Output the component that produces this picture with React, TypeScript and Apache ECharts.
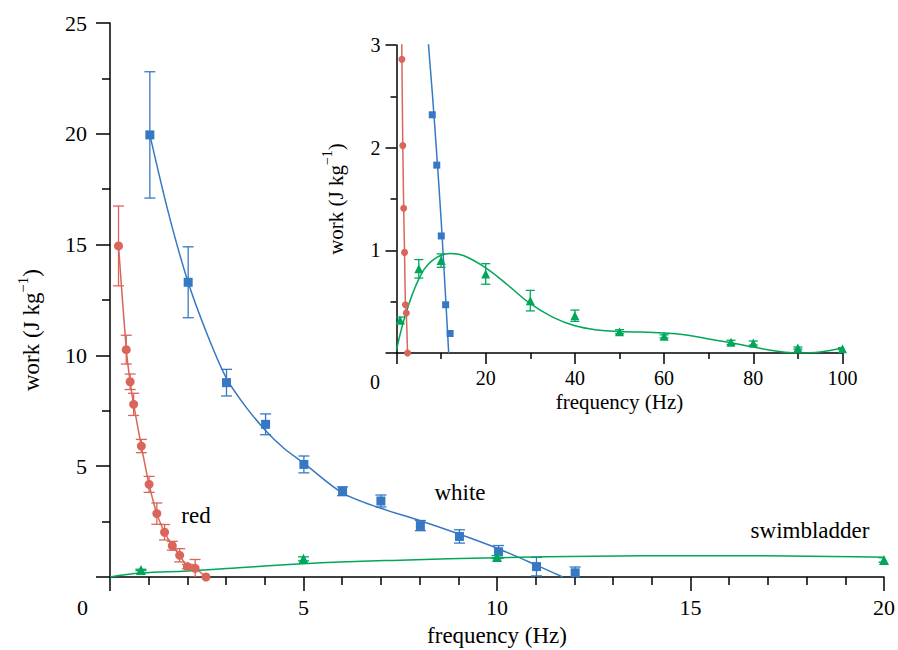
import React, { useEffect, useRef } from 'react';
import * as echarts from 'echarts';

// ---- data ----
const redFreq = [0.22, 0.42, 0.52, 0.61, 0.81, 1.01, 1.21, 1.41, 1.61, 1.8, 2.0, 2.2, 2.48];
const redWork = [14.94, 10.26, 8.81, 7.79, 5.91, 4.18, 2.86, 2.02, 1.41, 0.98, 0.47, 0.39, 0.0];
const redErr = [1.8, 0.65, 0.35, 0.5, 0.3, 0.36, 0.48, 0.35, 0.2, 0.3, 0.1, 0.4, 0];

const whiteFreq = [1.03, 2.02, 3.01, 4.02, 5.01, 6.01, 7.0, 8.02, 9.03, 10.04, 11.02, 12.02];
const whiteWork = [19.95, 13.3, 8.77, 6.89, 5.08, 3.87, 3.43, 2.32, 1.83, 1.14, 0.47, 0.19];
const whiteErr = [2.85, 1.6, 0.6, 0.47, 0.38, 0.2, 0.27, 0.23, 0.3, 0.28, 0.42, 0.26];

const whiteFitFreq = [1.03, 1.5, 2, 2.5, 3, 3.5, 4, 4.5, 5, 6, 7, 8, 9, 10, 11, 11.7];
const whiteFitWork = [19.95, 16.5, 13.4, 11.0, 9.0, 7.7, 6.65, 5.8, 5.15, 3.8, 3.1, 2.55, 1.95, 1.3, 0.55, 0];

const swimFreq = [0.8, 5, 10, 20, 30, 40, 50, 60, 75, 80, 90, 100];
const swimWork = [0.32, 0.82, 0.9, 0.77, 0.51, 0.363, 0.207, 0.162, 0.104, 0.097, 0.048, 0.042];
const swimErr = [0.03, 0.09, 0.065, 0.1, 0.1, 0.055, 0.02, 0.015, 0.02, 0.02, 0.01, 0.01];

const swimMainFitFreq = [0, 0.8, 2, 3, 5, 7.5, 10, 12.5, 15, 17.5, 20];
const swimMainFitWork = [0, 0.18, 0.27, 0.38, 0.6, 0.76, 0.87, 0.94, 0.96, 0.95, 0.89];

const swimInsetFitFreq = [0, 2, 5, 8, 12, 15, 20, 25, 30, 35, 40, 45, 50, 60, 65, 70, 75, 80, 85, 90, 95, 100];
const swimInsetFitWork = [0.03, 0.37, 0.72, 0.9, 0.97, 0.95, 0.83, 0.66, 0.48, 0.35, 0.265, 0.225, 0.21, 0.195, 0.175, 0.136, 0.1, 0.058, 0.02, 0.0, 0.01, 0.048];

const mainXTicks = { min: 0, max: 20, interval: 5 };
const mainYTicks = { min: 0, max: 25, interval: 5 };
const insetXTicks = { min: 0, max: 100, interval: 20 };
const insetYTicks = { min: 0, max: 3, interval: 1 };

const RED = '#d9655b';
const BLUE = '#3678c3';
const GREEN = '#00a75a';
const FONT = '"Liberation Serif", "Times New Roman", serif';

const zip = (xs: number[], ys: number[]) => xs.map((x, i) => [x, ys[i]]);
const zip3 = (xs: number[], ys: number[], es: number[]) => xs.map((x, i) => [x, ys[i], es[i]]);

const errRender = (cap: number, color: string) => (params: any, api: any) => {
  const x = api.value(0);
  const y = api.value(1);
  const e = api.value(2);
  if (!e) return null;
  const top = api.coord([x, y + e]);
  const bot = api.coord([x, y - e]);
  const style = { stroke: color, lineWidth: 1.3 };
  return {
    type: 'group',
    children: [
      { type: 'line', shape: { x1: top[0], y1: top[1], x2: bot[0], y2: bot[1] }, style },
      { type: 'line', shape: { x1: top[0] - cap, y1: top[1], x2: top[0] + cap, y2: top[1] }, style },
      { type: 'line', shape: { x1: bot[0] - cap, y1: bot[1], x2: bot[0] + cap, y2: bot[1] }, style },
    ],
  };
};

const axisBase = (tickLen: number, minorLen: number, split: number) => ({
  type: 'value' as const,
  axisLine: { show: true, onZero: false, lineStyle: { color: '#000', width: 1.5 } },
  axisTick: { show: true, inside: false, length: tickLen, lineStyle: { color: '#000', width: 1.5 } },
  minorTick: { show: true, splitNumber: split, length: minorLen, lineStyle: { color: '#000', width: 1.5 } },
  splitLine: { show: false },
  minorSplitLine: { show: false },
  nameMoveOverlap: false,
});

export default function App() {
  const ref = useRef<HTMLDivElement>(null);
  useEffect(() => {
    if (!ref.current) return;
    const chart = echarts.init(ref.current, undefined, { renderer: 'svg' });
    const option: any = {
      animation: false,
      backgroundColor: '#ffffff',
      textStyle: { fontFamily: FONT },
      grid: [
        { left: 110, right: 14, top: 23, bottom: 73, outerBoundsMode: 'none' },
        { left: 396.5, right: 55.5, top: 45, bottom: 297, outerBoundsMode: 'none' },
      ],
      xAxis: [
        {
          ...axisBase(14, 8, 5),
          gridIndex: 0,
          ...mainXTicks,
          axisLabel: {
            fontSize: 22, fontFamily: FONT, color: '#000', margin: 19,
            formatter: (v: number) => (v === 0 ? '{z|0}' : String(v)),
            rich: { z: { fontSize: 22, fontFamily: FONT, color: '#000', padding: [0, 55, 0, 0] } },
          },
          name: 'frequency (Hz)', nameLocation: 'middle', nameGap: 47,
          nameTextStyle: { fontSize: 23, fontFamily: FONT, color: '#000' },
        },
        {
          ...axisBase(11, 6, 2),
          gridIndex: 1,
          ...insetXTicks,
          axisLabel: {
            fontSize: 20, fontFamily: FONT, color: '#000', margin: 15,
            formatter: (v: number) => (v === 0 ? '{z|0}' : String(v)),
            rich: { z: { fontSize: 20, fontFamily: FONT, color: '#000', padding: [4, 43, 0, 0] } },
          },
          name: 'frequency (Hz)', nameLocation: 'middle', nameGap: 38,
          nameTextStyle: { fontSize: 21, fontFamily: FONT, color: '#000' },
        },
      ],
      yAxis: [
        {
          ...axisBase(14, 8, 2),
          gridIndex: 0,
          ...mainYTicks,
          axisLabel: {
            fontSize: 22, fontFamily: FONT, color: '#000', margin: 23,
            formatter: (v: number) => (v === 0 ? '' : String(v)),
          },
          name: '{a|work (J kg}{s|−1}{a|)}', nameLocation: 'middle', nameGap: 62,
          nameTextStyle: {
            fontSize: 23, fontFamily: FONT, color: '#000', padding: [0, 60, 0, 0],
            rich: {
              a: { fontSize: 23, fontFamily: FONT, color: '#000', lineHeight: 33 },
              s: { fontSize: 15, fontFamily: FONT, color: '#000', lineHeight: 6, verticalAlign: 'top' },
            },
          },
        },
        {
          ...axisBase(11, 6, 2),
          gridIndex: 1,
          ...insetYTicks,
          axisLabel: {
            fontSize: 20, fontFamily: FONT, color: '#000', margin: 16,
            formatter: (v: number) => (v === 0 ? '' : String(v)),
          },
          name: '{a|work (J kg}{s|−1}{a|)}', nameLocation: 'middle', nameGap: 45,
          nameTextStyle: {
            fontSize: 21, fontFamily: FONT, color: '#000',
            rich: {
              a: { fontSize: 21, fontFamily: FONT, color: '#000', lineHeight: 31 },
              s: { fontSize: 14, fontFamily: FONT, color: '#000', lineHeight: 6, verticalAlign: 'top' },
            },
          },
        },
      ],
      series: [
        // ---- main panel ----
        { type: 'line', xAxisIndex: 0, yAxisIndex: 0, data: zip(redFreq, redWork), smooth: 0.2, showSymbol: false, lineStyle: { color: RED, width: 1.5 }, z: 2 },
        { type: 'custom', xAxisIndex: 0, yAxisIndex: 0, data: zip3(redFreq, redWork, redErr), renderItem: errRender(5.5, RED), clip: true, encode: { x: 0, y: 1 }, z: 2 },
        { type: 'scatter', xAxisIndex: 0, yAxisIndex: 0, data: zip(redFreq, redWork), symbol: 'circle', symbolSize: 9, itemStyle: { color: RED, opacity: 1 }, z: 3 },

        { type: 'line', xAxisIndex: 0, yAxisIndex: 0, data: zip(whiteFitFreq, whiteFitWork), smooth: 0.3, showSymbol: false, lineStyle: { color: BLUE, width: 1.5 }, z: 2 },
        { type: 'custom', xAxisIndex: 0, yAxisIndex: 0, data: zip3(whiteFreq, whiteWork, whiteErr), renderItem: errRender(5.5, BLUE), clip: true, encode: { x: 0, y: 1 }, z: 2 },
        { type: 'scatter', xAxisIndex: 0, yAxisIndex: 0, data: zip(whiteFreq, whiteWork), symbol: 'rect', symbolSize: 9, itemStyle: { color: BLUE, opacity: 1 }, z: 3 },

        { type: 'line', xAxisIndex: 0, yAxisIndex: 0, data: zip(swimMainFitFreq, swimMainFitWork), smooth: 0.4, showSymbol: false, lineStyle: { color: GREEN, width: 1.5 }, z: 2 },
        { type: 'custom', xAxisIndex: 0, yAxisIndex: 0, data: zip3(swimFreq, swimWork, swimErr), renderItem: errRender(5.5, GREEN), clip: true, encode: { x: 0, y: 1 }, z: 2 },
        { type: 'scatter', xAxisIndex: 0, yAxisIndex: 0, data: zip(swimFreq, swimWork), symbol: 'triangle', symbolSize: 10, itemStyle: { color: GREEN, opacity: 1 }, z: 3 },

        // ---- inset panel ----
        { type: 'line', xAxisIndex: 1, yAxisIndex: 1, data: zip(redFreq, redWork), smooth: 0.2, showSymbol: false, lineStyle: { color: RED, width: 1.5 }, z: 2 },
        { type: 'scatter', xAxisIndex: 1, yAxisIndex: 1, data: zip(redFreq, redWork), symbol: 'circle', symbolSize: 7, itemStyle: { color: RED, opacity: 1 }, z: 3 },

        { type: 'line', xAxisIndex: 1, yAxisIndex: 1, data: zip(whiteFitFreq, whiteFitWork), smooth: 0.3, showSymbol: false, lineStyle: { color: BLUE, width: 1.5 }, z: 2 },
        { type: 'scatter', xAxisIndex: 1, yAxisIndex: 1, data: zip(whiteFreq, whiteWork), symbol: 'rect', symbolSize: 7, itemStyle: { color: BLUE, opacity: 1 }, z: 3 },

        { type: 'line', xAxisIndex: 1, yAxisIndex: 1, data: zip(swimInsetFitFreq, swimInsetFitWork), smooth: 0.4, showSymbol: false, lineStyle: { color: GREEN, width: 1.5 }, z: 2 },
        { type: 'custom', xAxisIndex: 1, yAxisIndex: 1, data: zip3(swimFreq, swimWork, swimErr), renderItem: errRender(4.5, GREEN), clip: true, encode: { x: 0, y: 1 }, z: 2 },
        { type: 'scatter', xAxisIndex: 1, yAxisIndex: 1, data: zip(swimFreq, swimWork), symbol: 'triangle', symbolSize: 9, itemStyle: { color: GREEN, opacity: 1 }, z: 3 },
      ],
      graphic: [
        { type: 'text', x: 196, y: 515, style: { text: 'red', font: `23px ${FONT}`, fill: '#000', align: 'center', verticalAlign: 'middle' } },
        { type: 'text', x: 460, y: 492, style: { text: 'white', font: `23px ${FONT}`, fill: '#000', align: 'center', verticalAlign: 'middle' } },
        { type: 'text', x: 810, y: 530, style: { text: 'swimbladder', font: `23px ${FONT}`, fill: '#000', align: 'center', verticalAlign: 'middle' } },
      ],
    };
    chart.setOption(option);
    return () => chart.dispose();
  }, []);
  return <div ref={ref} style={{ position: 'fixed', left: 0, top: 0, width: 898, height: 650, background: '#fff' }} />;
}
